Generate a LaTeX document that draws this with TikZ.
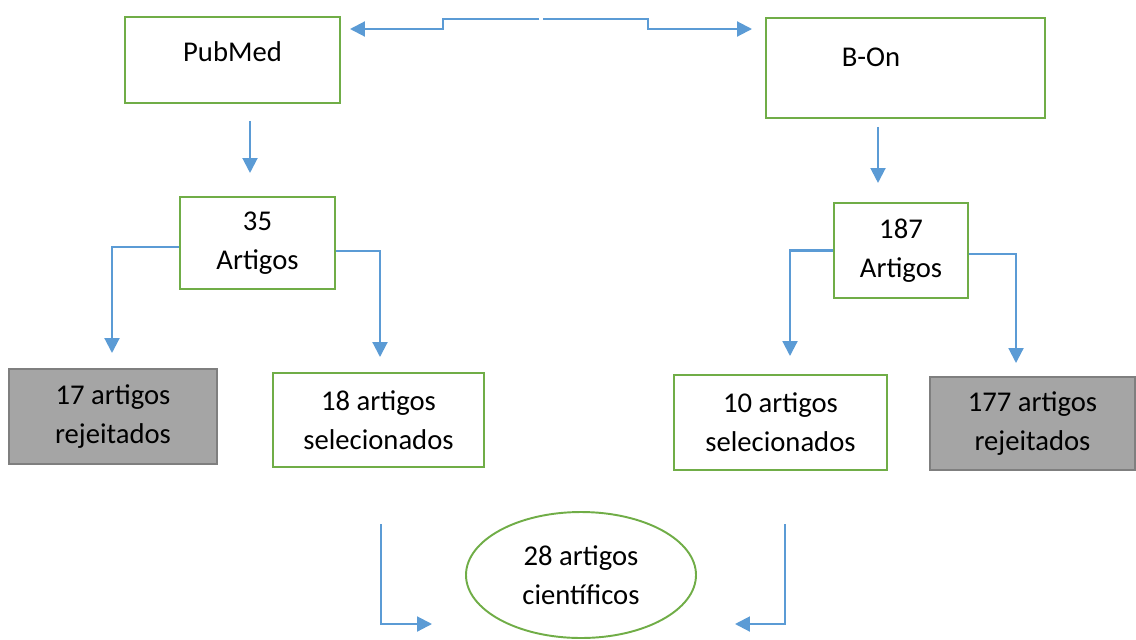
\documentclass[tikz,border=0pt]{standalone}
\usepackage{fontspec}
\setmainfont{Carlito}
\usepackage{tikz}
\usetikzlibrary{arrows.meta, shapes.geometric, calc}
\definecolor{boxgreen}{RGB}{112,173,71}
\definecolor{arrowblue}{RGB}{91,155,213}
\definecolor{rejgray}{RGB}{165,165,165}
\definecolor{rejborder}{RGB}{127,127,127}

\begin{document}
\begin{tikzpicture}
	\tikzset{box/.style={draw=boxgreen, line width=1.1pt, rectangle, align=center, font=\fontsize{16.3}{22}\selectfont}}
	\tikzset{greybox/.style={box, draw=rejborder, fill=rejgray}}
	\tikzset{arr/.style={-{Triangle[length=8.5pt,width=8.5pt]}, draw=arrowblue, line width=1.2pt}}
	\useasboundingbox (0,0) rectangle (22.72,-12.78);

	% databases
	\node(pubmed) at (4.65,-1.2) [box, minimum width=4.3cm, minimum height=1.72cm,
		label={[font=\fontsize{16.3}{22}\selectfont, yshift=0.16cm]center:PubMed}] {};
	\node(bon) at (18.11,-1.36) [box, minimum width=5.58cm, minimum height=2cm,
		label={[font=\fontsize{16.3}{22}\selectfont, xshift=-0.69cm, yshift=0.22cm]center:B-On}] {};

	% results
	\node(n35) at (5.15,-4.86) [box, minimum width=3.1cm, minimum height=1.84cm] {35\\Artigos};
	\node(n187) at (18.02,-5.01) [box, minimum width=2.68cm, minimum height=1.9cm] {187\\Artigos};

	\node(rej17) at (2.26,-8.33) [greybox, minimum width=4.16cm, minimum height=1.9cm] {17 artigos\\rejeitados};
	\node(sel18) at (7.57,-8.4) [box, minimum width=4.22cm, minimum height=1.88cm] {18 artigos\\selecionados};
	\node(sel10) at (15.61,-8.45) [box, minimum width=4.26cm, minimum height=1.9cm] {10 artigos\\selecionados};
	\node(rej177) at (20.65,-8.47) [greybox, minimum width=4.1cm, minimum height=1.86cm] {177 artigos\\rejeitados};

	\node(final) at (11.62,-11.5) [box, ellipse, minimum width=4.6cm, minimum height=2.52cm] {28 artigos\\científicos};

	% arrow ends
	\coordinate (topL) at (10.78,-0.38);
	\coordinate (topR) at (10.86,-0.38);
	\coordinate (tipPub) at (7.0,-0.58);
	\coordinate (tipBon) at (15.04,-0.58);
	\coordinate (t17) at (2.24,-7.06);
	\coordinate (t18) at (7.6,-7.14);
	\coordinate (t10) at (15.8,-7.12);
	\coordinate (t177) at (20.32,-7.26);
	\coordinate (botL) at (7.62,-10.48);
	\coordinate (botR) at (15.7,-10.48);
	\coordinate (tipL) at (8.64,-12.48);
	\coordinate (tipR) at (14.7,-12.48);

	\draw[arr] (topL) -- (8.86,-0.38) -- (8.86,-0.58) -- (tipPub);
	\draw[arr] (topR) -- (12.96,-0.38) -- (12.96,-0.58) -- (tipBon);

	\draw[arr] ([yshift=-0.34cm]pubmed.south -| 5.0,0) -- ++(0,-1.04);
	\draw[arr] ([yshift=-0.16cm]bon.south -| 17.56,0) -- ++(0,-1.12);

	\draw[arr] ([yshift=-0.08cm]n35.west) -| (t17);
	\draw[arr] ([yshift=-0.16cm]n35.east) -| (t18);
	\draw[arr] (n187.west) -| (t10);
	\draw[arr] ([yshift=-0.07cm]n187.east) -| (t177);

	\draw[arr] (botL) |- (tipL);
	\draw[arr] (botR) |- (tipR);
\end{tikzpicture}
\end{document}
